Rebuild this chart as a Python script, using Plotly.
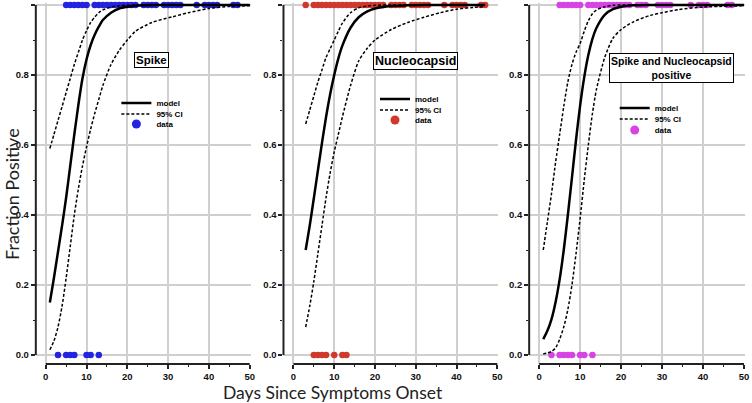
import plotly.graph_objects as go

W, H = 752, 403

# ---------------- data ----------------
panel_titles = ["Spike", "Nucleocapsid", "Spike and Nucleocapsid<br>positive"]
dot_colors = ["#2323e0", "#d0382c", "#d844e4"]
legend_labels = ["model", "95% CI", "data"]

# days with a positive result (fraction = 1) and negative result (fraction = 0)
spike_pos_days = [5, 6, 7, 8, 9, 10, 12, 13, 14, 15, 16, 17, 18, 19, 20, 21, 22,
                  24, 25, 26, 27, 29, 30, 31, 32, 33, 37, 39, 40, 41, 42, 46, 47]
spike_neg_days = [3, 5, 6, 7, 10, 11, 13]
nuc_pos_days = [3, 5, 6, 7, 8, 9, 10, 11, 12, 13, 14, 15, 16, 17, 18, 19, 20, 21, 22,
                24, 25, 26, 27, 29, 30, 31, 32, 33, 37, 39, 40, 41, 42, 46, 47]
nuc_neg_days = [5, 6, 7, 8, 10, 12, 13]
both_pos_days = [5, 6, 7, 8, 9, 10, 12, 13, 14, 15, 16, 17, 18, 19, 20, 21, 22,
                 24, 25, 26, 29, 30, 31, 32, 37, 39, 40, 41, 46, 47]
both_neg_days = [3, 5, 6, 7, 8, 10, 11, 13]

# model curve and 95% CI
spike_x = [1, 2, 3, 4, 5, 6, 7, 8, 9, 10, 11, 12, 13, 14, 16, 18, 20, 22, 26, 31, 35, 40, 45, 50]
spike_model = [0.15, 0.22, 0.295, 0.37, 0.45, 0.54, 0.63, 0.715, 0.79, 0.845, 0.885, 0.915,
               0.938, 0.957, 0.978, 0.99, 0.995, 0.998, 1.0, 1.0, 1.0, 1.0, 1.0, 1.0]
spike_upper = [0.59, 0.63, 0.67, 0.71, 0.75, 0.79, 0.83, 0.865, 0.90, 0.927, 0.95, 0.965,
               0.978, 0.986, 0.994, 0.998, 0.999, 1.0, 1.0, 1.0, 1.0, 1.0, 1.0, 1.0]
spike_lower = [0.015, 0.04, 0.08, 0.14, 0.22, 0.31, 0.40, 0.475, 0.54, 0.595, 0.645, 0.69,
               0.73, 0.77, 0.83, 0.87, 0.90, 0.925, 0.95, 0.966, 0.978, 0.99, 0.996, 0.998]

nuc_x = [3, 4, 5, 6, 7, 8, 9, 10, 11, 12, 14, 16, 18, 20, 24, 28, 32, 36, 40, 44, 47]
nuc_model = [0.30, 0.37, 0.448, 0.527, 0.606, 0.68, 0.745, 0.80, 0.847, 0.884, 0.935, 0.965,
             0.981, 0.99, 0.997, 0.999, 1.0, 1.0, 1.0, 1.0, 1.0]
nuc_upper = [0.66, 0.70, 0.74, 0.78, 0.815, 0.85, 0.875, 0.90, 0.925, 0.948, 0.978, 0.992,
             0.997, 0.999, 1.0, 1.0, 1.0, 1.0, 1.0, 1.0, 1.0]
nuc_lower = [0.08, 0.14, 0.21, 0.29, 0.37, 0.45, 0.52, 0.58, 0.63, 0.68, 0.77, 0.84,
             0.875, 0.90, 0.93, 0.95, 0.965, 0.978, 0.988, 0.993, 0.995]

both_x = [1, 2, 3, 4, 5, 6, 7, 8, 9, 10, 11, 12, 13, 14, 16, 18, 20, 23, 27, 30, 34, 40, 50]
both_model = [0.045, 0.069, 0.102, 0.151, 0.216, 0.30, 0.40, 0.507, 0.615, 0.713, 0.794, 0.857,
              0.903, 0.935, 0.972, 0.988, 0.995, 0.999, 1.0, 1.0, 1.0, 1.0, 1.0]
both_upper = [0.30, 0.38, 0.46, 0.55, 0.63, 0.71, 0.78, 0.83, 0.865, 0.89, 0.925, 0.955,
              0.975, 0.986, 0.995, 0.999, 1.0, 1.0, 1.0, 1.0, 1.0, 1.0, 1.0]
both_lower = [0.003, 0.006, 0.01, 0.02, 0.045, 0.08, 0.13, 0.20, 0.29, 0.39, 0.50, 0.60,
              0.69, 0.76, 0.85, 0.905, 0.93, 0.952, 0.97, 0.978, 0.987, 0.994, 0.998]

x_ticks = [0, 10, 20, 30, 40, 50]
y_ticks = [0.0, 0.2, 0.4, 0.6, 0.8, 1.0]

panels = [
    dict(pos=spike_pos_days, neg=spike_neg_days, x=spike_x, m=spike_model, u=spike_upper, l=spike_lower),
    dict(pos=nuc_pos_days, neg=nuc_neg_days, x=nuc_x, m=nuc_model, u=nuc_upper, l=nuc_lower),
    dict(pos=both_pos_days, neg=both_neg_days, x=both_x, m=both_model, u=both_upper, l=both_lower),
]

# ---------------- layout geometry (window pixels) ----------------
def fx(p):
    return p / W

def fy(p):
    return 1 - p / H

x_domains_px = [(36, 252), (285, 501), (532, 749)]
y_domain_px = (364, 3)
x_range = [-2.44, 50.24]
y_range = [-0.0257, 1.0057]

title_pos = [(152, 60), (418, 61), (675, 68)]
title_size = [11.5, 12.5, 10.5]
legend_x = [117, 377, 618]
legend_rows = [(103, 114, 124), (99, 110, 120), (108, 119, 130)]

fig = go.Figure()
layout = dict(
    width=W, height=H, margin=dict(l=0, r=0, t=0, b=0),
    paper_bgcolor="white", plot_bgcolor="white",
    showlegend=True, shapes=[], annotations=[],
    font=dict(family="Arial", color="black"),
)

tick_font = dict(family="Arial", size=9.5, color="#111", weight="bold")

for i, p in enumerate(panels):
    n = "" if i == 0 else str(i + 1)
    xa, ya = "x" + n, "y" + n
    col = dot_colors[i]
    legs = []
    for r in range(3):
        k = 3 * i + r + 1
        legs.append("legend" if k == 1 else "legend" + str(k))

    # data points
    fig.add_trace(go.Scatter(
        x=p["pos"] + p["neg"], y=[1.0] * len(p["pos"]) + [0.0] * len(p["neg"]),
        mode="markers", marker=dict(color=col, size=6.5, line=dict(width=0)),
        xaxis=xa, yaxis=ya, showlegend=False, cliponaxis=False))
    # model
    fig.add_trace(go.Scatter(
        x=p["x"], y=p["m"], mode="lines", name=legend_labels[0],
        line=dict(color="black", width=2.5, shape="spline", smoothing=0.7),
        xaxis=xa, yaxis=ya, legend=legs[0], cliponaxis=False))
    # CI
    fig.add_trace(go.Scatter(
        x=p["x"], y=p["u"], mode="lines", name=legend_labels[1],
        line=dict(color="black", width=1.5, dash="3px,2px", shape="spline", smoothing=0.7),
        xaxis=xa, yaxis=ya, legend=legs[1], cliponaxis=False))
    fig.add_trace(go.Scatter(
        x=p["x"], y=p["l"], mode="lines", name=legend_labels[1], showlegend=False,
        line=dict(color="black", width=1.5, dash="3px,2px", shape="spline", smoothing=0.7),
        xaxis=xa, yaxis=ya, cliponaxis=False))
    # legend entry for data (larger symbol, as in the reference legend)
    fig.add_trace(go.Scatter(
        x=[None], y=[None], mode="markers", name=legend_labels[2],
        marker=dict(color=col, size=9), xaxis=xa, yaxis=ya, legend=legs[2]))

    d0, d1 = x_domains_px[i]
    layout["xaxis" + n] = dict(
        domain=[fx(d0), fx(d1)], range=x_range, anchor=ya,
        tickvals=x_ticks, ticks="outside", ticklen=4, tickwidth=1.5, tickcolor="#222",
        minor=dict(dtick=5, tick0=0, ticks="outside", ticklen=2, tickwidth=1.2, tickcolor="#222", showgrid=False),
        showgrid=True, gridcolor="#cfcfcf", gridwidth=1.5, zeroline=False, showline=False,
        tickfont=tick_font, fixedrange=True)
    layout["yaxis" + n] = dict(
        domain=[fy(y_domain_px[0]), fy(y_domain_px[1])], range=y_range, anchor=xa,
        tickvals=y_ticks, tickformat=".1f", ticks="outside", ticklen=4, tickwidth=1.5, tickcolor="#222",
        minor=dict(dtick=0.1, tick0=0, ticks="outside", ticklen=2, tickwidth=1.2, tickcolor="#222", showgrid=False),
        showgrid=True, gridcolor="#cfcfcf", gridwidth=1.5, zeroline=False, showline=False,
        tickfont=tick_font, fixedrange=True)

    # axis lines (GraphPad style, offset from the data region)
    layout["shapes"].append(dict(type="line", xref=xa + " domain", yref=ya, x0=0, x1=0, y0=0, y1=1,
                                 line=dict(color="#222", width=2)))
    layout["shapes"].append(dict(type="line", xref=xa, yref=ya + " domain", x0=0, x1=50, y0=0, y1=0,
                                 line=dict(color="#222", width=2)))

    # boxed panel title
    tx, ty = title_pos[i]
    layout["annotations"].append(dict(
        text=panel_titles[i], x=fx(tx), y=fy(ty), xref="paper", yref="paper",
        showarrow=False, xanchor="center", yanchor="middle",
        font=dict(family="Arial", size=title_size[i], color="black", weight="bold"),
        bordercolor="black", borderwidth=1, borderpad=1, bgcolor="white"))

    # one legend per row so that rows sit as tightly as in the reference
    for r in range(3):
        layout[legs[r]] = dict(
            x=fx(legend_x[i]), y=fy(legend_rows[i][r]), xref="paper", yref="paper",
            xanchor="left", yanchor="middle",
            bgcolor="rgba(255,255,255,0)", borderwidth=0,
            font=dict(family="Arial", size=8, color="black", weight="bold"),
            itemwidth=30)

layout["annotations"].append(dict(
    text="Days Since Symptoms Onset", x=fx(335), y=fy(392), xref="paper", yref="paper",
    showarrow=False, xanchor="center", yanchor="middle",
    font=dict(family="Lato", size=17.5, color="#222")))
layout["annotations"].append(dict(
    text="Fraction Positive", x=fx(12), y=fy(194), xref="paper", yref="paper",
    showarrow=False, xanchor="center", yanchor="middle", textangle=-90,
    font=dict(family="Lato", size=18, color="#222")))

fig.update_layout(**layout)
fig.write_html(
    "out.html",
    config={"displayModeBar": False},
    post_script="document.body.style.margin='0px';document.body.style.padding='0px';"
                "document.body.style.overflow='hidden';")
